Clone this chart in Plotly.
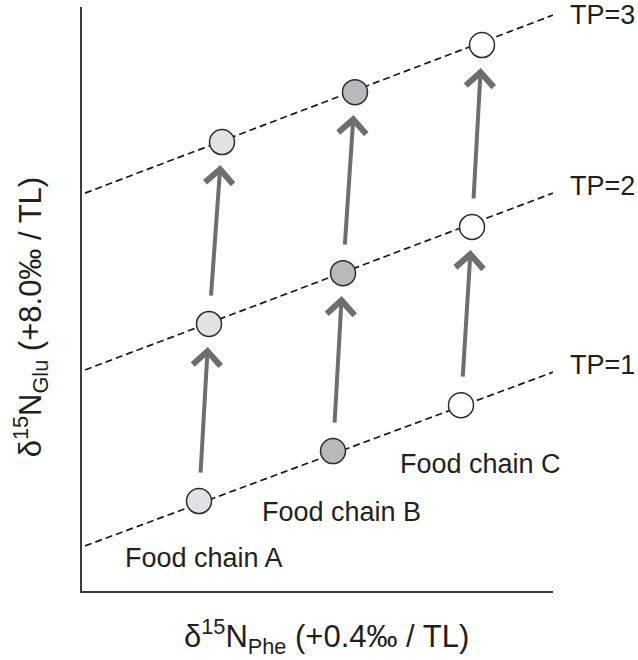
import plotly.graph_objects as go

# δ15N_Phe (x) and δ15N_Glu (y) for the three food chains, trophic position 1 -> 3
chain_names = ["Food chain A", "Food chain B", "Food chain C"]
chain_a_x = [4.68, 5.08, 5.60]
chain_a_y = [4.09, 12.14, 20.41]
chain_b_x = [10.04, 10.44, 10.92]
chain_b_y = [6.36, 14.45, 22.68]
chain_c_x = [15.16, 15.60, 16.00]
chain_c_y = [8.45, 16.55, 24.82]
chain_fill = ["#e1e2e6", "#b8b9bd", "#ffffff"]

# iso-trophic-position reference lines
tp_labels = ["TP=1", "TP=2", "TP=3"]
tp_line_x = [0.12, 18.84]
tp_line_y = [[2.05, 9.95], [10.05, 18.09], [18.09, 26.18]]

# label anchor points (left edge, vertical centre)
chain_label_x = [1.64, 7.12, 12.64]
chain_label_y = [1.50, 3.59, 5.77]
tp_label_xp = 1.031                       # paper units, right of the plot area
tp_label_yp = [0.387, 0.693, 0.987]

FONT = "Arial, Liberation Sans, sans-serif"
TEXT = "#231f20"

fig = go.Figure()

for ys in tp_line_y:
    fig.add_trace(go.Scatter(
        x=tp_line_x, y=ys, mode="lines",
        line=dict(color="#1a1a1a", width=1.7, dash="7px,4px"),
        hoverinfo="skip", showlegend=False, cliponaxis=False))

chains = [(chain_a_x, chain_a_y), (chain_b_x, chain_b_y), (chain_c_x, chain_c_y)]
annotations = []
for (xs, ys), fill, name in zip(chains, chain_fill, chain_names):
    fig.add_trace(go.Scatter(
        x=xs, y=ys, mode="markers", name=name,
        marker=dict(size=25, color=fill, line=dict(color="#2b2b2b", width=1.5)),
        cliponaxis=False, showlegend=False))
    # arrows from each trophic step to the next
    for i in range(len(xs) - 1):
        annotations.append(dict(
            x=xs[i + 1], y=ys[i + 1], ax=xs[i], ay=ys[i],
            xref="x", yref="y", axref="x", ayref="y",
            text="", showarrow=True, arrowhead=4, arrowsize=1.35,
            arrowwidth=4, arrowcolor="#6d6e71",
            standoff=23, startstandoff=27))

for name, lx, ly in zip(chain_names, chain_label_x, chain_label_y):
    annotations.append(dict(
        x=lx, y=ly, xref="x", yref="y", text=name, showarrow=False,
        xanchor="left", yanchor="middle",
        font=dict(family=FONT, size=27, color=TEXT)))

for lab, ly in zip(tp_labels, tp_label_yp):
    annotations.append(dict(
        x=tp_label_xp, y=ly, xref="paper", yref="paper", text=lab,
        showarrow=False, xanchor="left", yanchor="middle",
        font=dict(family=FONT, size=27, color=TEXT)))

# axis titles
annotations.append(dict(
    x=0.52, y=-0.078, xref="paper", yref="paper",
    text="δ<sup>15</sup>N<sub>Phe</sub> (+0.4‰ / TL)", showarrow=False,
    xanchor="center", yanchor="middle",
    font=dict(family=FONT, size=31, color=TEXT)))
annotations.append(dict(
    x=-0.11, y=0.469, xref="paper", yref="paper",
    text="δ<sup>15</sup>N<sub>Glu</sub> (+8.0‰ / TL)", showarrow=False,
    textangle=-90, xanchor="center", yanchor="middle",
    font=dict(family=FONT, size=31, color=TEXT)))

axis_common = dict(showline=True, linecolor="#3a3a3a", linewidth=1.6,
                   showgrid=False, zeroline=False, showticklabels=False,
                   ticks="", fixedrange=True)

fig.update_layout(
    width=638, height=660,
    margin=dict(l=82, r=85, t=7, b=69),
    paper_bgcolor="white", plot_bgcolor="white",
    xaxis=dict(range=[0, 18.84], **axis_common),
    yaxis=dict(range=[0, 26.55], **axis_common),
    annotations=annotations,
    showlegend=False,
)

fig.write_html("out.html")
